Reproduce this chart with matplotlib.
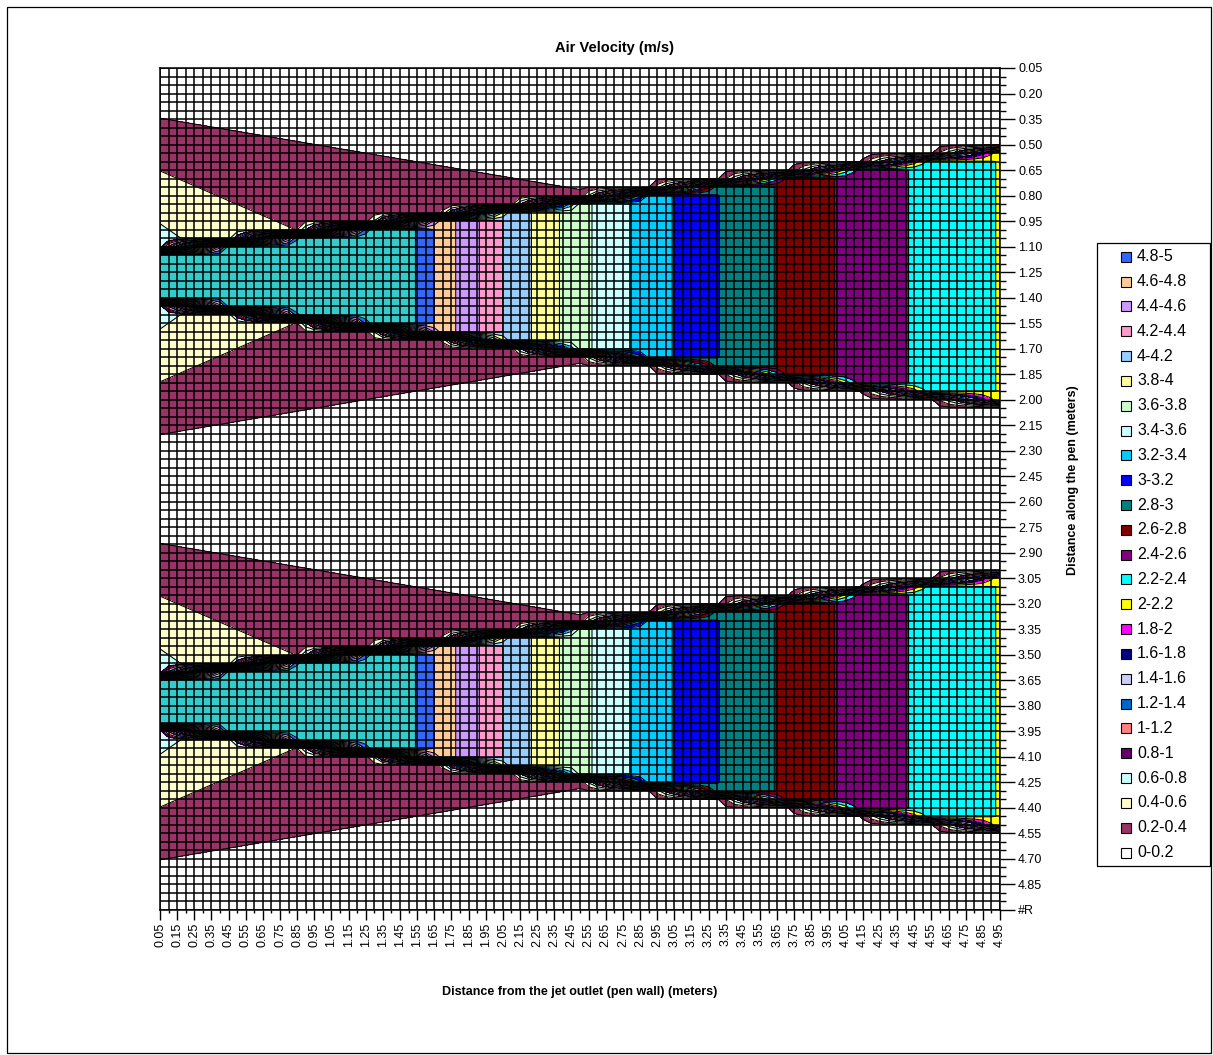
import numpy as np
import matplotlib
matplotlib.use("Agg")
import matplotlib.pyplot as plt
from matplotlib.patches import Rectangle

plt.rcParams['font.family'] = ['Liberation Sans', 'DejaVu Sans']

# ---- measurement grid (m) ----
x_pos = np.round(np.arange(1, 100) * 0.05, 2)    # distance from jet outlet, 0.05 .. 4.95
y_pos = np.round(np.arange(1, 101) * 0.05, 2)    # distance along the pen, 0.05 .. 5.00

# ---- jet core velocity for each x column (m/s) ----
core_speed = [5.15] * 28 + [
    5.18, 5.08, 4.98, 4.89, 4.80, 4.72, 4.64, 4.56, 4.48, 4.42, 4.34, 4.27,
    4.20, 4.13, 4.07, 4.02, 3.96, 3.89, 3.83, 3.78, 3.72, 3.67, 3.62, 3.57,
    3.53, 3.48, 3.44, 3.39, 3.35, 3.31, 3.27, 3.23, 3.19, 3.15, 3.11, 3.08,
    3.04, 3.01, 2.97, 2.94, 2.91, 2.88, 2.85, 2.82, 2.79, 2.76, 2.73, 2.70,
    2.67, 2.65, 2.62, 2.59, 2.57, 2.55, 2.52, 2.50, 2.47, 2.45, 2.43, 2.41,
    2.38, 2.36, 2.34, 2.32, 2.30, 2.28, 2.26, 2.24, 2.22, 2.21, 2.19]

# ---- jet boundaries (y at the outlet and at the far end) ----
jet_edge_x = [0.05, 4.95]
jet_top_edge = [[1.125, 0.525], [3.625, 3.025]]
jet_bottom_edge = [[1.425, 2.025], [3.925, 4.525]]

# ---- entrained air around each jet: contour distance from the jet axis ----
entrain_levels = [0.2, 0.4]
entrain_x = [[0.05, 2.62], [0.05, 0.85]]
entrain_r = [[0.93, 0.49], [0.62, 0.27]]

# ---- velocity classes ----
levels = np.round(np.arange(27) * 0.2, 1)          # 0 .. 5.2 m/s
band_colors = ['#FFFFFF', '#993366', '#FFFFCC', '#CCFFFF', '#660066', '#FF8080',
               '#0066CC', '#CCCCFF', '#000080', '#FF00FF', '#FFFF00', '#00FFFF',
               '#800080', '#800000', '#008080', '#0000FF', '#00CCFF', '#CCFFFF',
               '#CCFFCC', '#FFFF99', '#99CCFF', '#FF99CC', '#CC99FF', '#FFCC99',
               '#3366FF', '#33CCCC']


def line_at(x, xs, vs):
    return vs[0] + (vs[1] - vs[0]) * (x - xs[0]) / (xs[1] - xs[0])


# ---- velocity field ----
step = 0.05
Y = y_pos[:, None]
core = np.asarray(core_speed)[None, :]
r02 = line_at(x_pos, entrain_x[0], entrain_r[0])[None, :]
r04 = line_at(x_pos, entrain_x[1], entrain_r[1])[None, :]
Z = np.zeros((len(y_pos), len(x_pos)))
for top, bottom in zip(jet_top_edge, jet_bottom_edge):
    e_top = line_at(x_pos, jet_edge_x, top)[None, :]
    e_bot = line_at(x_pos, jet_edge_x, bottom)[None, :]
    axis_y = (e_top + e_bot) / 2
    r = np.abs(Y - axis_y)
    outer = entrain_levels[0] + (entrain_levels[1] - entrain_levels[0]) * (r02 - r) / (r02 - r04)
    outer = np.clip(outer, 0.02, 0.79)
    inside = np.minimum((Y - e_top) / step, (e_bot - Y) / step)
    w = np.clip(inside + 0.5, 0.0, 1.0)
    Z = np.maximum(Z, outer * (1 - w) + core * w)

# ---- figure ----
W, H = 1213, 1055
fig = plt.figure(figsize=(W / 100, H / 100), dpi=100)
fig.patch.set_facecolor('white')
ax = fig.add_axes([160 / W, 1 - 910 / H, 840 / W, 842 / H])

ax.contourf(x_pos, y_pos, Z, levels=levels, colors=band_colors)
ax.contour(x_pos, y_pos, Z, levels=levels[1:-1], colors='black', linewidths=0.75)

ax.set_xlim(x_pos[0], x_pos[-1])
ax.set_ylim(y_pos[-1], y_pos[0])

# mesh and axes
ax.set_xticks(x_pos[::2])
ax.set_xticks(x_pos[1::2], minor=True)
ax.set_xticklabels([f"{v:.2f}" for v in x_pos[::2]])
ytick_vals = y_pos[::3]
ax.set_yticks(ytick_vals)
ax.set_yticks(np.setdiff1d(y_pos, ytick_vals), minor=True)
ylabels = [f"{v:.2f}" for v in ytick_vals]
ylabels[-1] = "#R"
ax.set_yticklabels(ylabels)
ax.yaxis.tick_right()
ax.grid(which='both', color='black', linewidth=1.1)
ax.set_axisbelow(False)
ax.tick_params(axis='x', which='major', length=7, width=1, labelrotation=90,
               labelsize=9, pad=2)
ax.tick_params(axis='x', which='minor', length=2, width=1)
ax.tick_params(axis='y', which='major', length=11, width=1, labelsize=9, pad=2)
ax.tick_params(axis='y', which='minor', length=4, width=1)
for sp in ax.spines.values():
    sp.set_color('black')
    sp.set_linewidth(1.1)

# titles
fig.text(615 / W, 1 - 48 / H, "Air Velocity (m/s)", ha='center', va='center',
         fontsize=10.5, fontweight='bold')
fig.text(580 / W, 1 - 992 / H, "Distance from the jet outlet (pen wall) (meters)",
         ha='center', va='center', fontsize=9, fontweight='bold')
fig.text(1073 / W, 1 - 480 / H, "Distance along the pen (meters)", rotation=90,
         ha='center', va='center', fontsize=9, fontweight='bold')

# legend (highest class first, top class 5-5.2 not listed)
fig.add_artist(Rectangle((1097 / W, 1 - 866 / H), 113 / W, 623 / H,
                         transform=fig.transFigure, facecolor='white',
                         edgecolor='black', linewidth=0.9))
n_items = len(levels) - 2
for k in range(n_items):
    idx = n_items - 1 - k
    lo, hi = levels[idx], levels[idx + 1]
    yc = 256.7 + k * 24.83
    fig.add_artist(Rectangle((1121 / W, 1 - (yc + 5) / H), 10 / W, 10 / H,
                             transform=fig.transFigure, facecolor=band_colors[idx],
                             edgecolor='black', linewidth=0.8))
    fig.text(1137 / W, 1 - yc / H, f"{lo:g}-{hi:g}", ha='left', va='center',
             fontsize=11.5)

# chart area border
fig.add_artist(Rectangle((7 / W, 2 / H), 1204 / W, 1046 / H, transform=fig.transFigure,
                         facecolor='none', edgecolor='black', linewidth=0.9))

fig.savefig("out.png", dpi=100)
